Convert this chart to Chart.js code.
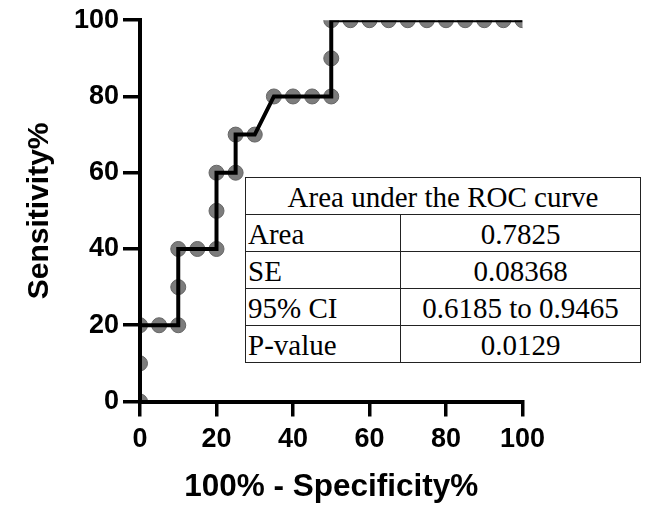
<!DOCTYPE html>
<html>
<head>
<meta charset="utf-8">
<title>ROC curve</title>
<script src="https://cdn.jsdelivr.net/npm/chart.js@4.4.1/dist/chart.umd.min.js"></script>
<style>
    html, body { margin: 0; padding: 0; background: #fff; }
    #wrap { position: relative; width: 651px; height: 508px; }
    #roc { position: absolute; left: 0; top: 0; }
    #auc {
        position: absolute;
        left: 245px;
        top: 177px;
        width: 396px;
        border-collapse: collapse;
        background: #fff;
        font-family: 'Liberation Serif', 'Times New Roman', serif;
        font-size: 29px;
        color: #000;
    }
    #auc td {
        border: 1px solid #222;
        height: 36px;
        padding: 2px 2px 0 2px;
        line-height: 34px;
        box-sizing: border-box;
        white-space: nowrap;
    }
    #auc td.lbl { width: 155px; text-align: left; }
    #auc td.val { text-align: center; }
    #auc td.head { text-align: center; }
</style>
</head>
<body>
<div id="wrap">
    <canvas id="roc" width="651" height="508"></canvas>
    <table id="auc"><tbody id="auc-body"></tbody></table>
</div>
<script>
// ROC points: 100% - specificity (x) against sensitivity (y)
const specPct = [0, 0, 0, 5, 10, 10, 10, 15, 20, 20, 20, 25, 25, 30, 35, 40, 45, 50, 50, 50,
                 55, 60, 65, 70, 75, 80, 85, 90, 95, 100];
const sensPct = [0, 10, 20, 20, 20, 30, 40, 40, 40, 50, 60, 60, 70, 70, 80, 80, 80, 80, 90, 100,
                 100, 100, 100, 100, 100, 100, 100, 100, 100, 100];

const axisTicks = [0, 20, 40, 60, 80, 100];

// Summary table
const aucTitle = 'Area under the ROC curve';
const aucLabels = ['Area', 'SE', '95% CI', 'P-value'];
const aucValues = ['0.7825', '0.08368', '0.6185 to 0.9465', '0.0129'];

const rocPoints = specPct.map((x, i) => ({ x: x, y: sensPct[i] }));

function buildTable() {
    const body = document.getElementById('auc-body');
    let html = `<tr><td class="head" colspan="2">${aucTitle}</td></tr>`;
    aucLabels.forEach((label, i) => {
        html += `<tr><td class="lbl">${label}</td><td class="val">${aucValues[i]}</td></tr>`;
    });
    body.innerHTML = html;
}

function axisOptions(tickLen, tickPad, titleText, titleSize, titlePad, fitSize, isX) {
    return {
        type: 'linear',
        min: 0,
        max: 100,
        afterBuildTicks: (scale) => {
            scale.ticks = axisTicks.map(v => ({ value: v }));
        },
        afterFit: (scale) => {
            if (isX) scale.height = fitSize;
            else scale.width = fitSize;
        },
        grid: {
            display: true,
            drawOnChartArea: false,
            drawTicks: true,
            tickLength: tickLen,
            tickWidth: 3.5,
            tickColor: '#000',
            lineWidth: 3.5,
            color: '#000'
        },
        border: { display: true, color: '#000', width: 4, z: 1 },
        ticks: {
            color: '#000',
            padding: tickPad,
            autoSkip: false,
            maxRotation: 0,
            font: { family: "'Liberation Sans', Arial, sans-serif", size: 27, weight: 'bold' }
        },
        title: {
            display: true,
            text: titleText,
            color: '#000',
            padding: titlePad,
            font: { family: "'Liberation Sans', Arial, sans-serif", size: titleSize, weight: 'bold' }
        }
    };
}

function init() {
    buildTable();

    const ctx = document.getElementById('roc').getContext('2d');
    new Chart(ctx, {
        type: 'scatter',
        data: {
            datasets: [
                {
                    // step curve through the points, drawn above the markers
                    type: 'line',
                    data: rocPoints,
                    borderColor: '#000',
                    borderWidth: 4,
                    borderJoinStyle: 'miter',
                    pointRadius: 0,
                    tension: 0,
                    fill: false,
                    order: 0
                },
                {
                    type: 'scatter',
                    data: rocPoints,
                    backgroundColor: '#7c7c7c',
                    borderColor: '#666',
                    borderWidth: 1,
                    pointRadius: 7.5,
                    clip: 0,
                    order: 1
                }
            ]
        },
        options: {
            responsive: false,
            devicePixelRatio: 1,
            animation: false,
            layout: { padding: { left: 0, right: 128.5, top: 17.5, bottom: 0 } },
            plugins: {
                legend: { display: false },
                tooltip: { enabled: false }
            },
            scales: {
                x: axisOptions(15, 7, '100% - Specificity%', 31.5, { top: 0, bottom: 1.5 }, 106.5, true),
                y: axisOptions(17, 4, 'Sensitivity%', 30, { top: 22, bottom: 0 }, 140, false)
            }
        }
    });
}

document.addEventListener('DOMContentLoaded', init);
</script>
</body>
</html>
